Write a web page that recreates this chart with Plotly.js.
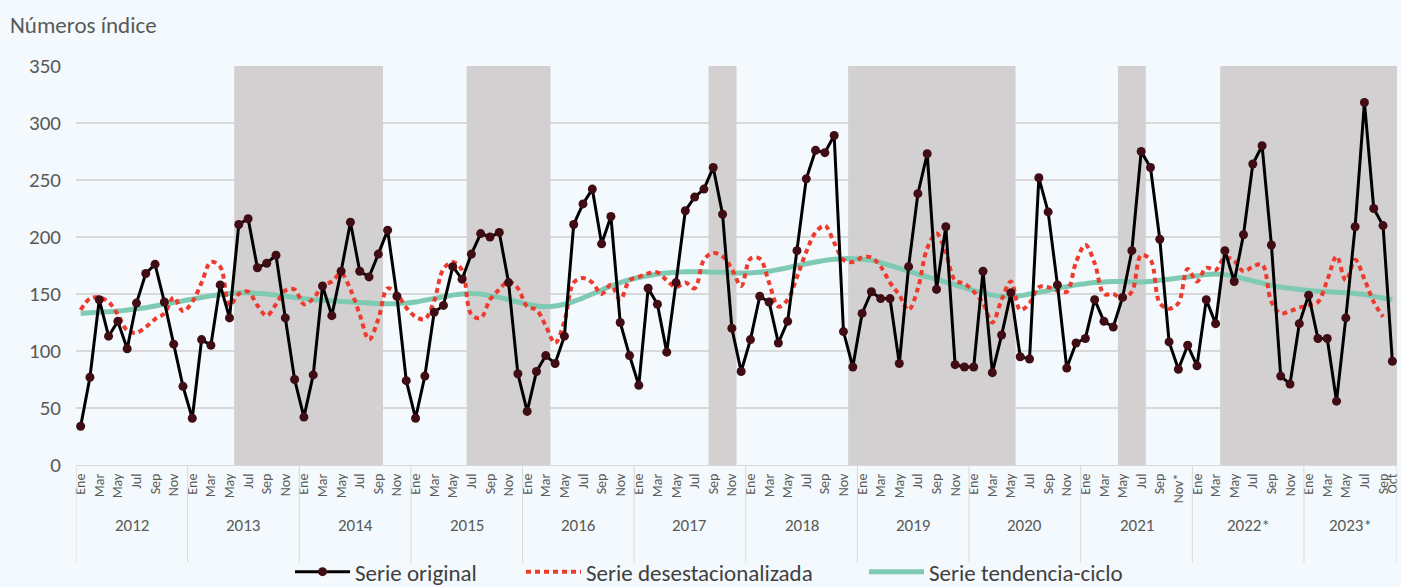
<!DOCTYPE html>
<html>
<head>
<meta charset="utf-8">
<script src="https://cdn.plot.ly/plotly-3.0.1.min.js"></script>
<style>
  html, body { margin: 0; padding: 0; background: #f3f9fc; }
  #chart { width: 1401px; height: 587px; }
</style>
</head>
<body>
<div id="chart"></div>
<script>
// ---- Data (monthly, Ene 2012 – Oct 2023) ----
const years = ['2012','2013','2014','2015','2016','2017','2018','2019','2020','2021','2022*','2023*'];
const monthNames = ['Ene','Feb','Mar','Abr','May','Jun','Jul','Ago','Sep','Oct','Nov','Dic'];
const tickOverrides = [['2021', 'Nov', 'Nov*']];

const serieOriginal = [
  34, 77, 145, 113, 126, 102, 142, 168, 176, 143, 106, 69,
  41, 110, 105, 158, 129, 211, 216, 173, 177, 184, 129, 75,
  42, 79, 157, 131, 170, 213, 170, 165, 185, 206, 148, 74,
  41, 78, 134, 140, 174, 163, 185, 203, 200, 204, 160, 80,
  47, 82, 96, 89, 113, 211, 229, 242, 194, 218, 125, 96,
  70, 155, 141, 99, 160, 223, 235, 242, 261, 220, 120, 82,
  110, 148, 143, 107, 126, 188, 251, 276, 274, 289, 117, 86,
  133, 152, 146, 146, 89, 174, 238, 273, 154, 209, 88, 86,
  86, 170, 81, 114, 151, 95, 93, 252, 222, 158, 85, 107,
  111, 145, 126, 121, 147, 188, 275, 261, 198, 108, 84, 105,
  87, 145, 124, 188, 161, 202, 264, 280, 193, 78, 71, 124,
  149, 111, 111, 56, 129, 209, 318, 225, 210, 91
];

const serieDesestacionalizada = [
  136, 146, 147, 143, 132, 118, 116, 121, 128, 133, 147, 135,
  143, 160, 178, 174, 140, 150, 152, 140, 131, 141, 153, 154,
  141, 146, 157, 161, 168, 154, 132, 110, 128, 155, 150, 138,
  130, 128, 144, 172, 178, 171, 132, 129, 145, 154, 161, 155,
  139, 136, 122, 107, 126, 160, 164, 160, 150, 158, 145, 162,
  165, 168, 169, 162, 156, 160, 155, 180, 186, 183, 172, 157,
  181, 181, 160, 139, 145, 165, 187, 204, 210, 195, 180, 178,
  182, 182, 174, 160, 149, 136, 155, 190, 203, 186, 162, 159,
  152, 142, 125, 145, 161, 136, 142, 156, 156, 153, 152, 178,
  193, 177, 150, 150, 146, 152, 184, 180, 142, 137, 142, 172,
  161, 173, 171, 182, 179, 170, 174, 176, 143, 133, 135, 138,
  140, 143, 162, 183, 162, 180, 163, 143, 130, null
];

const serieTendencia = [
  133, 133.5, 134, 134.5, 135, 136, 137, 138, 139.5, 141, 142.5, 144,
  145.5, 147, 148.5, 149.5, 150.5, 151, 151, 150.5, 150, 149, 148, 147,
  146, 145, 144.5, 144, 143.5, 143, 142.5, 142, 141.5, 141.5, 141.5, 142,
  143, 144.5, 146, 147.5, 149, 150, 150.5, 150, 148.5, 147, 145, 143,
  141, 139.5, 139, 139.5, 141, 143.5, 146.5, 150, 153.5, 157, 160, 162.5,
  164.5, 166, 167.5, 168.5, 169, 169.5, 169.5, 169.5, 169, 169, 168.5, 168.5,
  168.5, 169, 170, 171.5, 173, 175, 176.5, 178, 179.5, 180.5, 181, 181,
  180.5, 179.5, 177.5, 175, 172.5, 170, 167.5, 165, 163, 160.5, 158, 155.5,
  153, 151, 149, 148, 148, 148.5, 150, 151.5, 153, 155, 156.5, 158,
  159, 160, 160.5, 161, 161, 160.5, 160.5, 161, 162, 163, 164, 165,
  166, 167, 167.5, 167, 165.5, 163.5, 161.5, 159.5, 157.5, 156, 155, 154,
  153, 152.5, 152, 151.5, 151, 150.5, 149.5, 148, 146.5, 145
];

// shaded periods: [first month index, last month index]
const shadedPeriods = [[17, 32], [42, 50], [68, 70], [83, 100], [112, 114], [123, 141]];

// ---- Build axes helpers ----
const N = serieOriginal.length;
const xIdx = serieOriginal.map((_, i) => i);

const tickvals = [], ticktext = [];
for (let i = 0; i < N; i++) {
  const m = i % 12;
  if (m % 2 === 0 || i === N - 1) {
    let lab = monthNames[m];
    const yr = years[Math.floor(i / 12)];
    tickOverrides.forEach(o => { if (o[0] === yr && o[1] === lab) lab = o[2]; });
    tickvals.push(i);
    ticktext.push(lab);
  }
}

const shapes = [];
shadedPeriods.forEach(p => {
  shapes.push({
    type: 'rect', xref: 'x', yref: 'y',
    x0: p[0] - 0.5, x1: p[1] + 0.5, y0: 0, y1: 350,
    fillcolor: '#d3d0d1', line: { width: 0 }, layer: 'between'
  });
});
// year separators and year labels
const annotations = [];
years.forEach((y, k) => {
  const start = 12 * k;
  const end = Math.min(12 * k + 11, N - 1);
  shapes.push({
    type: 'line', xref: 'x', yref: 'paper',
    x0: start - 0.5, x1: start - 0.5, y0: 0, y1: -0.245,
    line: { color: '#d9d9d9', width: 1 }, layer: 'above'
  });
  if (k === years.length - 1) {
    shapes.push({
      type: 'line', xref: 'x', yref: 'paper',
      x0: end + 0.5, x1: end + 0.5, y0: 0, y1: -0.245,
      line: { color: '#d9d9d9', width: 1 }, layer: 'above'
    });
  }
  annotations.push({
    xref: 'x', yref: 'paper', x: (start + end) / 2, y: -0.151,
    text: y, showarrow: false, xanchor: 'center', yanchor: 'middle',
    font: { size: 17, color: '#595959' }
  });
});
annotations.push({
  xref: 'paper', yref: 'paper', x: -0.0515, y: 1.103,
  text: 'Números índice', showarrow: false, xanchor: 'left', yanchor: 'middle',
  font: { size: 23, color: '#595959' }
});

const traces = [
  {
    x: xIdx, y: serieTendencia, name: 'Serie tendencia-ciclo', type: 'scatter', mode: 'lines',
    line: { color: '#7fcab2', width: 5, shape: 'spline', smoothing: 1 }, legend: 'legend3'
  },
  {
    x: xIdx, y: serieDesestacionalizada, name: 'Serie desestacionalizada', type: 'scatter', mode: 'lines',
    line: { color: '#ee3b2e', width: 4, dash: '5px,4px', shape: 'spline', smoothing: 1 }, legend: 'legend2'
  },
  {
    x: xIdx, y: serieOriginal, name: 'Serie original', type: 'scatter', mode: 'lines+markers',
    line: { color: '#000000', width: 3 },
    marker: { color: '#3f0d13', size: 9, line: { width: 0 } }, legend: 'legend'
  }
];

function legendAt(px) {
  return {
    orientation: 'h', xref: 'container', yref: 'container',
    x: px / 1401, xanchor: 'left', y: 0.026, yanchor: 'middle',
    font: { size: 23, color: '#404040' }, itemwidth: 55,
    bgcolor: 'rgba(0,0,0,0)'
  };
}

const layout = {
  width: 1401, height: 587,
  paper_bgcolor: '#f3f9fc', plot_bgcolor: '#f3f9fc',
  font: { family: 'Carlito, Lato, sans-serif', color: '#595959' },
  margin: { l: 76, r: 4, t: 66, b: 122 },
  showlegend: true,
  legend: legendAt(290),
  legend2: legendAt(521),
  legend3: legendAt(864),
  xaxis: {
    range: [-0.5, N - 0.5], tickmode: 'array', tickvals: tickvals, ticktext: ticktext,
    tickangle: -90, tickfont: { size: 14, color: '#595959' },
    showgrid: false, zeroline: false, showline: true, linecolor: '#d9d9d9', linewidth: 1,
    ticks: '', ticklabelstandoff: 2, fixedrange: true
  },
  yaxis: {
    range: [0, 350], dtick: 50, tick0: 0, gridcolor: '#d9d9d9', gridwidth: 1.5,
    zeroline: false, showline: false, ticks: '',
    tickfont: { size: 21, color: '#595959' }, ticklabelstandoff: 14, fixedrange: true
  },
  shapes: shapes,
  annotations: annotations
};

Plotly.newPlot('chart', traces, layout, { displayModeBar: false, staticPlot: true });
</script>
</body>
</html>
